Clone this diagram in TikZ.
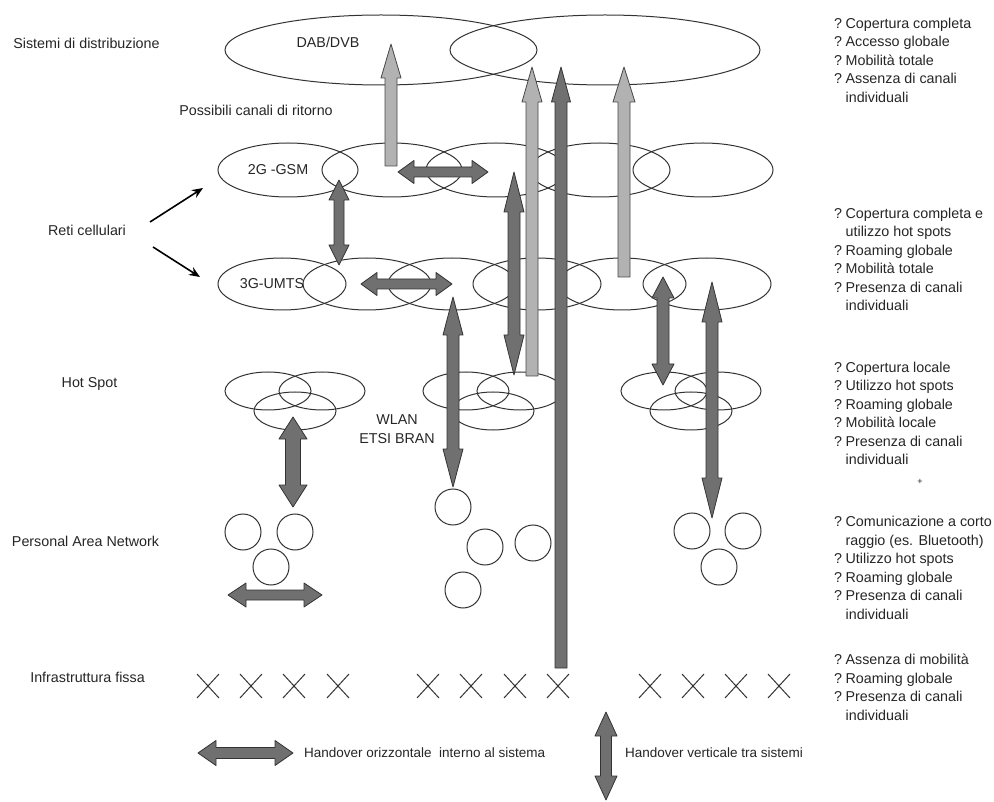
\documentclass[tikz,border=0pt]{standalone}
\usepackage{fontspec}
\setmainfont{Liberation Sans}
\usetikzlibrary{shapes.geometric,shapes.misc,arrows.meta}

% text sizes
\newcommand\lblfont{\fontsize{14.3pt}{18.5pt}\selectfont}
\newcommand\legfont{\fontsize{13.5pt}{16pt}\selectfont}

% block arrows: style, position, tips, half shaft width, half head width, head length
\newcommand\blockVV[7]{%
  \draw[#1] (#2,#3) -- ({#2+#6},{#3+#7}) -- ({#2+#5},{#3+#7}) -- ({#2+#5},{#4-#7})
    -- ({#2+#6},{#4-#7}) -- (#2,#4) -- ({#2-#6},{#4-#7}) -- ({#2-#5},{#4-#7})
    -- ({#2-#5},{#3+#7}) -- ({#2-#6},{#3+#7}) -- cycle;}
\newcommand\blockHH[7]{%
  \draw[#1] (#3,#2) -- ({#3+#7},{#2-#6}) -- ({#3+#7},{#2-#5}) -- ({#4-#7},{#2-#5})
    -- ({#4-#7},{#2-#6}) -- (#4,#2) -- ({#4-#7},{#2+#6}) -- ({#4-#7},{#2+#5})
    -- ({#3+#7},{#2+#5}) -- ({#3+#7},{#2+#6}) -- cycle;}
\newcommand\blockUp[7]{%
  \draw[#1] (#2,#3) -- ({#2+#6},{#3+#7}) -- ({#2+#5},{#3+#7}) -- ({#2+#5},#4)
    -- ({#2-#5},#4) -- ({#2-#5},{#3+#7}) -- ({#2-#6},{#3+#7}) -- cycle;}

\begin{document}
\begin{tikzpicture}[x=1pt, y=-1pt,
  cell/.style={ellipse, draw=black!80, line width=1pt, inner sep=0pt},
  pan/.style={circle, draw=black!80, line width=1pt, minimum size=36pt, inner sep=0pt},
  fixed/.style={cross out, draw=black!80, line width=1pt, minimum width=21pt, minimum height=23pt, inner sep=0pt},
  lbl/.style={font=\lblfont, text=black!85, inner sep=0pt},
  info/.style={font=\lblfont, text=black!85, inner sep=0pt, anchor=base west},
  leg/.style={font=\legfont, text=black!85, inner sep=0pt, anchor=west},
  dk/.style={fill=black!56, draw=black!80, line width=0.8pt, line join=round},
  lt/.style={fill=black!30, draw=black!72, line width=0.8pt, line join=round},
  pointer/.style={-{Stealth[length=11pt,width=9pt]}, line width=1.6pt, black},
]
\useasboundingbox[fill=white] (0,0) rectangle (994,802);

% ---- broadcast layer
\node[cell, minimum width=312pt, minimum height=70pt] (dab1) at (381,50) {};
\node[cell, minimum width=310pt, minimum height=70pt] (dab2) at (605,50) {};
\node[lbl] (dabtxt) at (328,42) {DAB/DVB};
\node[lbl] (ritorno) at (256,110) {Possibili canali di ritorno};

% ---- cellular layers
\foreach \c [count=\i] in {288,392,496,600,703}
  \node[cell, minimum width=140pt, minimum height=54pt] (gsm\i) at (\c,170) {};
\foreach \c [count=\i] in {282,367,452,537,622,707}
  \node[cell, minimum width=128pt, minimum height=52pt] (umts\i) at (\c,284) {};
\node[lbl] (gsmtxt) at (278,170) {2G -GSM};
\node[lbl] (umtstxt) at (272,284) {3G-UMTS};

% ---- hot spots
\foreach \c [count=\i] in {295,493,691} {
  \node[cell, minimum width=86pt, minimum height=38pt] (hs\i-a) at (\c-27,391) {};
  \node[cell, minimum width=86pt, minimum height=38pt] (hs\i-b) at (\c+27,391) {};
  \node[cell, minimum width=82pt, minimum height=38pt] (hs\i-c) at (\c,411) {};
}
\node[lbl, align=center] (wlan) at (397,429) {WLAN\\ETSI BRAN};

% ---- personal area networks
\node[pan] (p1) at (243,532) {};
\node[pan] (p2) at (295,532) {};
\node[pan] (p3) at (271,567) {};
\node[pan] (p4) at (453,507) {};
\node[pan] (p5) at (485,547) {};
\node[pan] (p6) at (533,543) {};
\node[pan] (p7) at (463,590) {};
\node[pan] (p8) at (692,531) {};
\node[pan] (p9) at (743,531) {};
\node[pan] (p10) at (719,567) {};

% ---- fixed infrastructure
\foreach \x [count=\i] in {208,251,294,338,428,471,515,558,650,693,736,779}
  \node[fixed] (fx\i) at (\x,686) {};

% ---- handover arrows
\blockUp{lt}{391}{44}{166}{6}{10}{34}
\blockUp{lt}{532}{67}{376}{6}{10}{35}
\blockUp{dk}{561}{67}{668}{6}{9.5}{35}
\blockUp{lt}{624}{67}{277}{6}{11}{35}
\blockVV{dk}{339}{180}{265}{5}{10}{20}
\blockVV{dk}{514}{172}{375}{6}{10}{40}
\blockVV{dk}{453}{297}{487}{6}{10}{38}
\blockVV{dk}{663}{277}{385}{6}{11}{21}
\blockVV{dk}{712}{282}{518}{6}{10}{40}
\blockVV{dk}{293}{417}{507}{7.5}{14}{22}
\blockHH{dk}{172}{398}{488}{5}{11.5}{16}
\blockHH{dk}{284}{361}{452}{5}{11.5}{16}
\blockHH{dk}{595}{228}{322}{5}{12}{18}

% ---- row labels
\node[lbl] (distr) at (86.5,43) {Sistemi di distribuzione};
\node[lbl] (reti) at (87,230) {Reti cellulari};
\node[lbl] (hot) at (89.5,384) {Hot Spot};
\node[lbl] (panlbl) at (85.5,541) {Personal Area Network};
\node[lbl] (infra) at (87.5,677) {Infrastruttura fissa};

\coordinate (reti-up) at (150,222);
\coordinate (reti-dn) at (153,247);
\coordinate (to-gsm) at (203,188);
\coordinate (to-umts) at (200,277);
\draw[pointer] (reti-up) -- (to-gsm);
\draw[pointer] (reti-dn) -- (to-umts);

% ---- properties of each layer
\node[info] (info1) at (834,28.5) {\begin{tabular}[t]{@{}l@{\hspace{3.5pt}}l@{}}
? & Copertura completa\\ ? & Accesso globale\\ ? & Mobilità totale\\
? & Assenza di canali\\ & individuali\end{tabular}};
\node[info] (info2) at (834,218.5) {\begin{tabular}[t]{@{}l@{\hspace{3.5pt}}l@{}}
? & Copertura completa e\\ & utilizzo hot spots\\ ? & Roaming globale\\
? & Mobilità totale\\ ? & Presenza di canali\\ & individuali\end{tabular}};
\node[info] (info3) at (834,372.5) {\begin{tabular}[t]{@{}l@{\hspace{3.5pt}}l@{}}
? & Copertura locale\\ ? & Utilizzo hot spots\\ ? & Roaming globale\\
? & Mobilità locale\\ ? & Presenza di canali\\ & individuali\end{tabular}};
\node[lbl, font=\fontsize{9pt}{10pt}\selectfont] (plus) at (920,482) {+};
\node[info] (info4) at (834,526.5) {\begin{tabular}[t]{@{}l@{\hspace{3.5pt}}l@{}}
? & Comunicazione a corto\\ & raggio (es. Bluetooth)\\ ? & Utilizzo hot spots\\
? & Roaming globale\\ ? & Presenza di canali\\ & individuali\end{tabular}};
\node[info] (info5) at (834,664.5) {\begin{tabular}[t]{@{}l@{\hspace{3.5pt}}l@{}}
? & Assenza di mobilità\\ ? & Roaming globale\\ ? & Presenza di canali\\
& individuali\end{tabular}};

% ---- legend
\blockHH{dk}{753}{198}{293}{5.5}{12.5}{18}
\node[leg] (leg-h) at (304,753) {Handover orizzontale \ interno al sistema};
\blockVV{dk}{606}{712}{800}{5.5}{11}{24}
\node[leg] (leg-v) at (625,753) {Handover verticale tra sistemi};
\end{tikzpicture}
\end{document}
